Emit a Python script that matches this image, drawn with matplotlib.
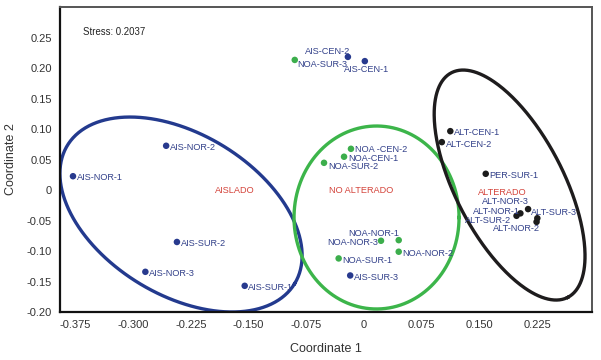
import numpy as np
import matplotlib
matplotlib.use('Agg')
import matplotlib.pyplot as plt

# NMDS coordinates
names = ['AIS-NOR-1', 'AIS-NOR-2', 'AIS-SUR-2', 'AIS-NOR-3', 'AIS-SUR-1',
         'NOA-SUR-3', 'AIS-CEN-2', 'AIS-CEN-1',
         'NOA -CEN-2', 'NOA-CEN-1', 'NOA-SUR-2',
         'NOA-NOR-1', 'NOA-NOR-3', 'NOA-NOR-2', 'NOA-SUR-1', 'AIS-SUR-3',
         'ALT-CEN-1', 'ALT-CEN-2', 'PER-SUR-1',
         'ALT-NOR-3', 'ALT-NOR-1', 'ALT-SUR-2', 'ALT-SUR-3', 'ALT-NOR-2']
coord1 = [-0.378, -0.257, -0.243, -0.284, -0.155,
          -0.090, -0.021, 0.001,
          -0.017, -0.026, -0.052,
          0.045, 0.022, 0.045, -0.033, -0.018,
          0.112, 0.101, 0.158,
          0.213, 0.203, 0.198, 0.225, 0.224]
coord2 = [0.023, 0.073, -0.085, -0.134, -0.157,
          0.214, 0.219, 0.212,
          0.068, 0.055, 0.045,
          -0.082, -0.083, -0.101, -0.112, -0.140,
          0.097, 0.079, 0.027,
          -0.031, -0.038, -0.042, -0.046, -0.052]
group = ['AIS', 'AIS', 'AIS', 'AIS', 'AIS',
         'NOA', 'AIS', 'AIS',
         'NOA', 'NOA', 'NOA',
         'NOA', 'NOA', 'NOA', 'NOA', 'AIS',
         'ALT', 'ALT', 'ALT',
         'ALT', 'ALT', 'ALT', 'ALT', 'ALT']

xticks = [-0.375, -0.300, -0.225, -0.150, -0.075, 0, 0.075, 0.150, 0.225]
xticklabels = ['-0.375', '-0.300', '-0.225', '-0.150', '-0.075', '0', '0.075', '0.150', '0.225']
yticks = [0.25, 0.20, 0.15, 0.10, 0.05, 0, -0.05, -0.10, -0.15, -0.20]
yticklabels = ['0.25', '0.20', '0.15', '0.10', '0.05', '0', '-0.05', '-0.10', '-0.15', '-0.20']

group_labels = ['AISLADO', 'NO ALTERADO', 'ALTERADO']
group_label_x = [-0.168, -0.004, 0.179]
group_label_y = [0.0, -0.001, -0.003]

# label offsets in pixels (dx, dy, ha)
offsets = [(4, -1, 'left'), (4, -2, 'left'), (4, -2, 'left'), (4, -2, 'left'), (3, -2, 'left'),
           (2, -5, 'left'), (2, 5, 'right'), (-21, -8, 'left'),
           (4, -1, 'left'), (4, -2, 'left'), (4, -4, 'left'),
           (1, 7, 'right'), (-3, -2, 'right'), (4, -2, 'left'), (4, -2, 'left'), (4, -2, 'left'),
           (4, -1, 'left'), (4, -2, 'left'), (4, -2, 'left'),
           (1, 8, 'right'), (0, 2, 'right'), (-5, -5, 'right'), (-6, 6, 'left'), (3, -7, 'right')]

dot_col = {'AIS': '#283a8e', 'NOA': '#3cae4c', 'ALT': '#1c1c1c'}
txt_col = '#33418a'
red = '#d4433a'

# ellipses: center (data), semi-axes in px, angle deg
ell_cx = [-0.2377, 0.0162, 0.1890]
ell_cy = [-0.0399, -0.0448, 0.0085]
ell_a = [133, 82.5, 126.5]
ell_b = [80.5, 91.5, 54]
ell_ang = [-31.3, 0, -62.6]
ell_col = ['#233a8e', '#3cb54a', '#1e1c1d']

sx, sy = 770.0, 609.0  # px per data unit

font = ['Liberation Sans', 'DejaVu Sans']

fig = plt.figure(figsize=(6.01, 3.60), dpi=100)
ax = fig.add_axes([59.5 / 601, 1 - 312 / 360, (592 - 59.5) / 601, (312 - 6.7) / 360])
ax.set_xlim(-0.3955, 0.296)
ax.set_ylim(-0.20, 0.3014)

t = np.linspace(0, 2 * np.pi, 400)
for cx, cy, a, b, ang, c in zip(ell_cx, ell_cy, ell_a, ell_b, ell_ang, ell_col):
    th = np.deg2rad(ang)
    u = a * np.cos(t)
    v = b * np.sin(t)
    ex = cx + (u * np.cos(th) - v * np.sin(th)) / sx
    ey = cy + (u * np.sin(th) + v * np.cos(th)) / sy
    ax.plot(ex, ey, color=c, lw=2.4, zorder=2)

cols = [dot_col[g] for g in group]
ax.scatter(coord1, coord2, s=22, c=cols, zorder=3, linewidths=0)

for n, x, y, (dx, dy, ha) in zip(names, coord1, coord2, offsets):
    ax.annotate(n, (x, y), xytext=(dx, dy), textcoords='offset pixels',
                ha=ha, va='center', fontsize=6.6, color=txt_col, family=font)

for lab, x, y in zip(group_labels, group_label_x, group_label_y):
    ax.text(x, y, lab, ha='center', va='center', fontsize=6.6, color=red, family=font)

ax.text(0.044, 0.917, 'Stress: 0.2037', transform=ax.transAxes, ha='left', va='center',
        fontsize=6.9, color='#222222', family=font)

ax.set_xticks(xticks)
ax.set_xticklabels(xticklabels)
ax.set_yticks(yticks)
ax.set_yticklabels(yticklabels)
ax.tick_params(length=0, labelsize=8, colors='#333333', pad=5.5)
for lab in ax.get_xticklabels() + ax.get_yticklabels():
    lab.set_family(font)

ax.set_xlabel('Coordinate 1', fontsize=9, color='#333333', family=font)
ax.set_ylabel('Coordinate 2', fontsize=9, color='#333333', family=font)
ax.xaxis.set_label_coords(0.5, -31 / 305.3)
ax.yaxis.set_label_coords(-42.5 / 532.5, 0.5)

for side in ['left', 'bottom']:
    ax.spines[side].set_linewidth(1.6)
    ax.spines[side].set_color('#111111')
for side in ['top', 'right']:
    ax.spines[side].set_linewidth(1.4)
    ax.spines[side].set_color('#555555')

fig.savefig('out.png', dpi=100)
